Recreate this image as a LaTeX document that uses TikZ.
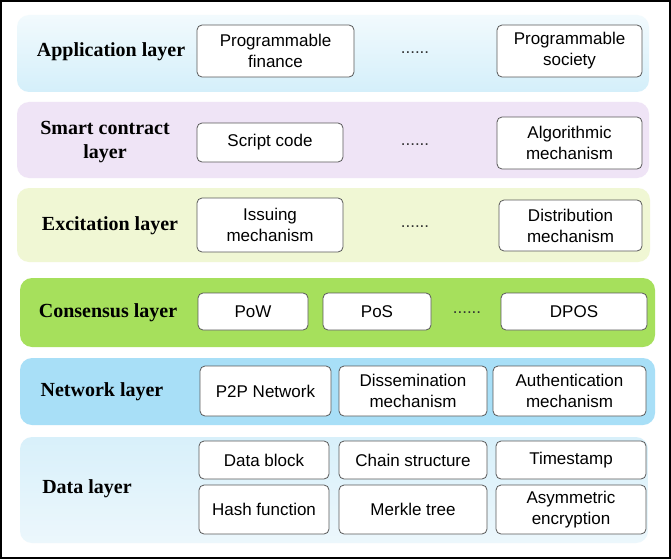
\documentclass[tikz,border=0pt]{standalone}
\usepackage{fontspec}
\setmainfont{Liberation Serif}
\setsansfont{Liberation Sans}
\begin{document}
\begin{tikzpicture}[x=1pt,y=-1pt,
  band/.style={rounded corners=12pt, draw=none, inner sep=0pt},
  item/.style={draw=black!65, line width=0.8pt, fill=white, rounded corners=5pt, inner sep=0pt, align=center, font=\sffamily\fontsize{17}{21}\selectfont},
  lbl/.style={align=center, font=\rmfamily\bfseries\fontsize{20}{24}\selectfont},
  dots/.style={font=\sffamily\fontsize{17}{21}\selectfont, text=black!80}]
\useasboundingbox (0,0) rectangle (671,559);
\fill[white] (0,0) rectangle (671,559);
\draw[line width=2pt] (1,1) rectangle (670,558);
% bands
\node[band, top color={rgb,255:red,242;green,250;blue,253}, bottom color={rgb,255:red,212;green,239;blue,250}, minimum width=632pt, minimum height=77pt] (appb) at (333,53.5) {};
\node[band, fill={rgb,255:red,239;green,228;blue,246}, minimum width=632pt, minimum height=76pt] (scb) at (333,140) {};
\node[band, fill={rgb,255:red,240;green,247;blue,212}, minimum width=633pt, minimum height=74pt] (exb) at (333.5,225) {};
\node[band, fill={rgb,255:red,166;green,224;blue,92}, minimum width=635pt, minimum height=69pt] (cob) at (337.5,312.5) {};
\node[band, fill={rgb,255:red,168;green,223;blue,247}, minimum width=635pt, minimum height=67pt] (neb) at (337.5,391.5) {};
\node[band, top color={rgb,255:red,216;green,240;blue,250}, bottom color={rgb,255:red,236;green,247;blue,252}, minimum width=628pt, minimum height=106pt] (dab) at (334,490) {};
% labels
\node[lbl] (appl) at (111,52) {Application layer};
\node[lbl] (scl) at (105,142) {Smart contract\\layer};
\node[lbl] (exl) at (110,226) {Excitation layer};
\node[lbl] (col) at (108,313) {Consensus layer};
\node[lbl] (nel) at (102,392) {Network layer};
\node[lbl] (dal) at (87,489) {Data layer};
% application
\node[item, minimum width=157pt, minimum height=52pt] (pf) at (275.5,51) {Programmable\\finance};
\node[dots] (d1) at (415,53) {......};
\node[item, minimum width=145pt, minimum height=52pt] (ps) at (569.5,51) {Programmable\\society};
% smart contract
\node[item, minimum width=146pt, minimum height=39pt] (sc) at (270,142.5) {Script code};
\node[dots] (d2) at (415,145) {......};
\node[item, minimum width=145pt, minimum height=52pt] (am) at (569.5,143) {Algorithmic\\mechanism};
% excitation
\node[item, minimum width=146pt, minimum height=54pt] (im) at (270,225) {Issuing\\mechanism};
\node[dots] (d3) at (415,227) {......};
\node[item, minimum width=143pt, minimum height=51pt] (dm) at (570.5,225.5) {Distribution\\mechanism};
% consensus
\node[item, minimum width=110pt, minimum height=37pt] (pow) at (253,311.5) {PoW};
\node[item, minimum width=108pt, minimum height=37pt] (pos) at (377,311.5) {PoS};
\node[dots] (d4) at (467,313) {......};
\node[item, minimum width=146pt, minimum height=37pt] (dpos) at (574,311.5) {DPOS};
% network
\node[item, minimum width=131pt, minimum height=50pt] (p2p) at (265.5,391) {P2P Network};
\node[item, minimum width=148pt, minimum height=50pt] (dis) at (413,391) {Dissemination\\mechanism};
\node[item, minimum width=153pt, minimum height=50pt] (auth) at (569.5,391) {Authentication\\mechanism};
% data
\node[item, minimum width=130pt, minimum height=38pt] (db) at (264,460) {Data block};
\node[item, minimum width=148pt, minimum height=38pt] (cs) at (413,460) {Chain structure};
\node[item, minimum width=150pt, minimum height=38pt] (ts) at (571,460) {Timestamp};
\node[item, minimum width=130pt, minimum height=49pt] (hf) at (264,509.5) {Hash function};
\node[item, minimum width=148pt, minimum height=49pt] (mt) at (413,509.5) {Merkle tree};
\node[item, minimum width=150pt, minimum height=49pt] (ae) at (571,509.5) {Asymmetric\\encryption};
\end{tikzpicture}
\end{document}
